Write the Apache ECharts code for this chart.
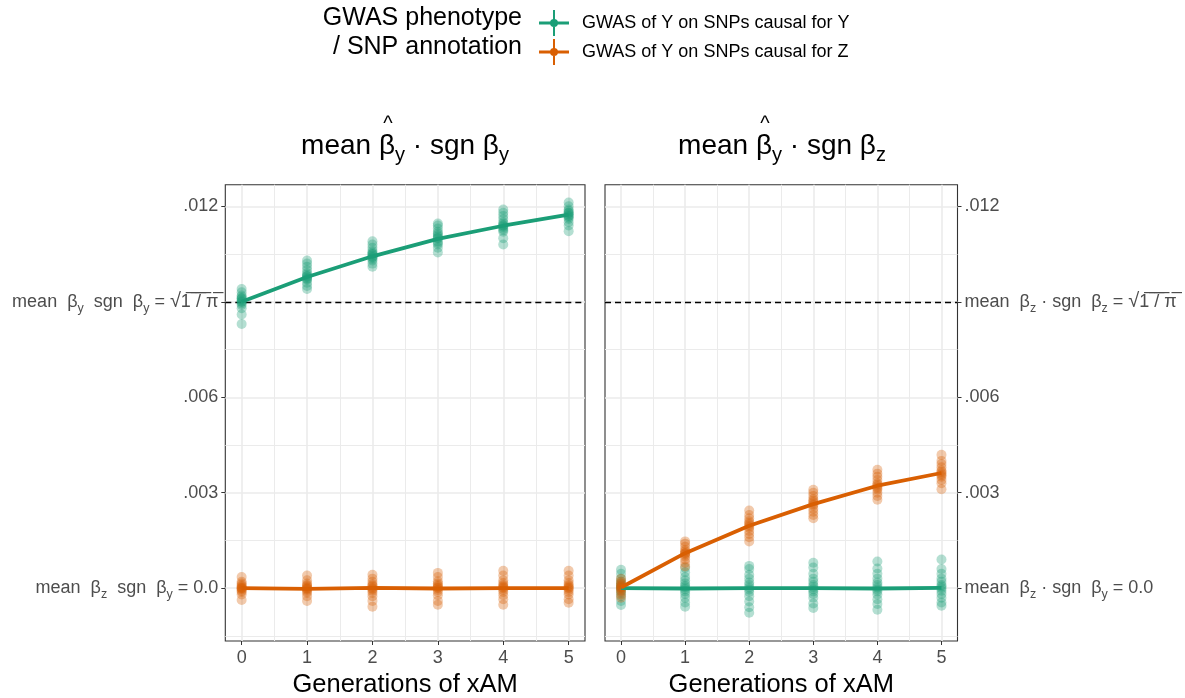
<!DOCTYPE html>
<html>
<head>
<meta charset="utf-8">
<script src="https://cdn.jsdelivr.net/npm/echarts@6/dist/echarts.min.js"></script>
<style>
  html, body { margin: 0; padding: 0; background: #ffffff; }
  #chart { width: 1185px; height: 698px; }
</style>
</head>
<body>
<div id="chart"></div>
<script>
// Generations of cross-trait assortative mating
const generations = [0, 1, 2, 3, 4, 5];

const seriesNameY = 'GWAS of Y on SNPs causal for Y';
const seriesNameZ = 'GWAS of Y on SNPs causal for Z';

// Left panel: mean beta-hat_y * sgn beta_y
const leftMeansY = [0.00900, 0.00978, 0.01043, 0.01098, 0.01139, 0.01174];
const leftMeansZ = [0.00000, -0.00002, 0.00001, -0.00001, 0.00000, 0.00000];
// Right panel: mean beta-hat_y * sgn beta_z
const rightMeansY = [0.00000, -0.00001, 0.00000, 0.00000, -0.00001, 0.00001];
const rightMeansZ = [0.00002, 0.00110, 0.00196, 0.00264, 0.00322, 0.00362];

// Replicate estimates per generation
const leftRepsY = [
  [0.0083, 0.0086, 0.0088, 0.0089, 0.00895, 0.0090, 0.0090, 0.00905, 0.0091, 0.0091, 0.00915, 0.0092, 0.0093, 0.0094],
  [0.0094, 0.0095, 0.0096, 0.0097, 0.00972, 0.00975, 0.0098, 0.0098, 0.00985, 0.0099, 0.0100, 0.0101, 0.0102, 0.0103],
  [0.0101, 0.0102, 0.0103, 0.01035, 0.0104, 0.0104, 0.01045, 0.0105, 0.0105, 0.01055, 0.0106, 0.0107, 0.0108, 0.0109],
  [0.01055, 0.0107, 0.0108, 0.01085, 0.0109, 0.0110, 0.0110, 0.01105, 0.0111, 0.01115, 0.0112, 0.0113, 0.0114, 0.01146],
  [0.0108, 0.0110, 0.0112, 0.01125, 0.0113, 0.01135, 0.0114, 0.0114, 0.01145, 0.0115, 0.0116, 0.0117, 0.0118, 0.0119],
  [0.01122, 0.0114, 0.0115, 0.0116, 0.01165, 0.0117, 0.0117, 0.01175, 0.0118, 0.0118, 0.01185, 0.0119, 0.0120, 0.01212]
];
const leftRepsZ = [
  [-0.00037, -0.0002, -0.00012, -0.00008, -0.00004, 0, 0, 0.00003, 0.00006, 0.0001, 0.00015, 0.0002, 0.00035],
  [-0.0004, -0.00025, -0.00015, -0.0001, -0.00005, -0.00002, 0, 0.00003, 0.00007, 0.0001, 0.00015, 0.00025, 0.0004],
  [-0.00058, -0.0004, -0.00025, -0.00015, -0.00008, -0.00003, 0, 0.00004, 0.00008, 0.00012, 0.0002, 0.0003, 0.00042],
  [-0.00052, -0.0004, -0.00022, -0.00012, -0.00006, 0, 0.00002, 0.00006, 0.0001, 0.00015, 0.00022, 0.00035, 0.00048],
  [-0.00052, -0.00035, -0.00022, -0.00012, -0.00006, 0, 0.00003, 0.00006, 0.0001, 0.00016, 0.00025, 0.0004, 0.00055],
  [-0.00046, -0.00035, -0.0002, -0.00012, -0.00005, 0, 0.00002, 0.00006, 0.0001, 0.00016, 0.00025, 0.0004, 0.00055]
];
const rightRepsY = [
  [-0.00053, -0.0004, -0.00025, -0.00015, -0.00008, 0, 0.00004, 0.00008, 0.00014, 0.0002, 0.0003, 0.00045, 0.00058],
  [-0.00058, -0.00045, -0.0003, -0.00018, -0.0001, -0.00003, 0.00003, 0.00008, 0.00015, 0.00025, 0.00035, 0.0005, 0.00064],
  [-0.00077, -0.0006, -0.00042, -0.00025, -0.00012, -0.00004, 0.00002, 0.0001, 0.00018, 0.0003, 0.00042, 0.0006, 0.0007],
  [-0.00062, -0.00048, -0.0003, -0.00018, -0.0001, -0.00003, 0.00004, 0.0001, 0.0002, 0.0003, 0.00045, 0.00065, 0.0008],
  [-0.00068, -0.0005, -0.00035, -0.0002, -0.0001, -0.00004, 0.00002, 0.0001, 0.00018, 0.0003, 0.00045, 0.00062, 0.00084],
  [-0.00055, -0.00045, -0.0003, -0.00018, -0.00008, 0, 0.00005, 0.0001, 0.0002, 0.0003, 0.00045, 0.0006, 0.0009]
];
const rightRepsZ = [
  [-0.0003, -0.0002, -0.0001, -0.00005, 0, 0.00002, 0.00005, 0.0001, 0.00015, 0.0002, 0.0003],
  [0.00068, 0.0008, 0.0009, 0.001, 0.00105, 0.0011, 0.0011, 0.00115, 0.0012, 0.0013, 0.0014, 0.00147],
  [0.00147, 0.0016, 0.0017, 0.0018, 0.0019, 0.00195, 0.002, 0.00205, 0.0021, 0.0022, 0.0023, 0.00244],
  [0.0022, 0.0023, 0.0024, 0.0025, 0.0026, 0.00264, 0.0027, 0.00275, 0.0028, 0.0029, 0.003, 0.00309],
  [0.00278, 0.0029, 0.003, 0.0031, 0.00315, 0.0032, 0.00325, 0.0033, 0.0034, 0.0035, 0.0036, 0.00372],
  [0.00311, 0.0033, 0.0034, 0.0035, 0.00355, 0.0036, 0.00365, 0.0037, 0.0038, 0.0039, 0.004, 0.00419]
];

// Reference level: mean |beta| = sqrt(1/pi), scaled
const referenceLevel = 0.009;

// Axis breaks and tick labels
const yBreaks = [0, 0.003, 0.006, 0.009, 0.012];
const yMinorBreaks = [-0.0015, 0.0015, 0.0045, 0.0075, 0.0105];
const xBreaks = [0, 1, 2, 3, 4, 5];
const xMinorBreaks = [0.5, 1.5, 2.5, 3.5, 4.5];
const leftYLabels = [
  '{t|mean  β}{s|z}{t|  sgn  β}{s|y}{t| = 0.0}',
  '{t|.003}',
  '{t|.006}',
  '{t|mean  β}{s|y}{t|  sgn  β}{s|y}{t| = }{r|√}{t|1̅ ̅/̅ ̅π̅}',
  '{t|.012}'
];
const rightYLabels = [
  '{t|mean  β}{s|z}{t| · sgn  β}{s|y}{t| = 0.0}',
  '{t|.003}',
  '{t|.006}',
  '{t|mean  β}{s|z}{t| · sgn  β}{s|z}{t| = }{r|√}{t|1̅ ̅/̅ ̅π̅}',
  '{t|.012}'
];
// Panel titles, as [main, subscript, main, subscript] pieces
const panelTitleParts = [
  ['mean β', 'y', ' · sgn β', 'y'],
  ['mean β', 'y', ' · sgn β', 'z']
];
const xAxisTitle = 'Generations of xAM';
const legendTitle = 'GWAS phenotype\n/ SNP annotation';

const colorY = '#1b9e77';
const colorZ = '#d95f02';
const FONT = 'Liberation Sans';
const TITLE_SIZE = 28, TITLE_SUB = 20;

const labelRich = {
  t: { fontFamily: FONT, fontSize: 18, color: '#4d4d4d', lineHeight: 26 },
  r: { fontFamily: FONT, fontSize: 20, color: '#4d4d4d', lineHeight: 26 },
  s: { fontFamily: FONT, fontSize: 12.5, color: '#4d4d4d', lineHeight: 26, verticalAlign: 'bottom' }
};
const titleRich = {
  m: { fontFamily: FONT, fontSize: TITLE_SIZE, color: '#000000', lineHeight: 38 },
  b: { fontFamily: FONT, fontSize: TITLE_SUB, color: '#000000', lineHeight: 38, verticalAlign: 'bottom' }
};

function labelFor(labels) {
  return function (v) {
    const i = yBreaks.findIndex(b => Math.abs(b - v) < 1e-9);
    return i >= 0 ? labels[i] : '';
  };
}

function pointsOf(reps) {
  const out = [];
  reps.forEach((vals, i) => vals.forEach(v => out.push([generations[i], v])));
  return out;
}
function lineOf(means) {
  return means.map((v, i) => [generations[i], v]);
}

const yMin = -0.00166, yMax = 0.01268;
const xMin = -0.25, xMax = 5.25;

function xAxisFor(gridIndex) {
  return {
    type: 'value', gridIndex, min: xMin, max: xMax,
    axisLine: { show: false, onZero: false },
    splitLine: { show: false },
    axisTick: { show: true, length: 4, lineStyle: { color: '#333333', width: 1 }, customValues: xBreaks },
    axisLabel: { show: true, customValues: xBreaks, margin: 8, fontFamily: FONT, fontSize: 18, color: '#4d4d4d', formatter: v => String(v) },
    name: xAxisTitle, nameLocation: 'middle', nameGap: 30,
    nameTextStyle: { fontFamily: FONT, fontSize: 25.5, color: '#000000' }
  };
}
function yAxisFor(gridIndex, position, labels) {
  return {
    type: 'value', gridIndex, position, min: yMin, max: yMax,
    axisLine: { show: false, onZero: false },
    splitLine: { show: false },
    axisTick: { show: true, length: 4, lineStyle: { color: '#333333', width: 1 }, customValues: yBreaks },
    axisLabel: { show: true, customValues: yBreaks, margin: 7, formatter: labelFor(labels), rich: labelRich }
  };
}

function gridLineSeries(k) {
  const data = [];
  yMinorBreaks.forEach(v => data.push({ yAxis: v, lineStyle: { width: 1 } }));
  xMinorBreaks.forEach(v => data.push({ xAxis: v, lineStyle: { width: 1 } }));
  yBreaks.forEach(v => data.push({ yAxis: v, lineStyle: { width: 1.6 } }));
  xBreaks.forEach(v => data.push({ xAxis: v, lineStyle: { width: 1.6 } }));
  return {
    type: 'line', name: 'grid' + k, xAxisIndex: k, yAxisIndex: k, data: [], silent: true, z: 1,
    markLine: {
      silent: true, symbol: ['none', 'none'], animation: false, precision: 10, z: 1,
      label: { show: false },
      lineStyle: { color: '#ebebeb', type: 'solid' },
      emphasis: { disabled: true },
      data
    }
  };
}
function refLineSeries(k) {
  return {
    type: 'line', name: 'ref' + k, xAxisIndex: k, yAxisIndex: k, data: [], silent: true, z: 2,
    markLine: {
      silent: true, symbol: ['none', 'none'], animation: false, precision: 10, z: 2,
      label: { show: false },
      lineStyle: { color: '#000000', type: [6, 4], width: 1.3 },
      emphasis: { disabled: true },
      data: [{ yAxis: referenceLevel }]
    }
  };
}
function pointSeries(k, name, color, reps) {
  return {
    type: 'scatter', name, xAxisIndex: k, yAxisIndex: k, z: 3,
    symbol: 'circle', symbolSize: 10, silent: true,
    itemStyle: { color, opacity: 0.33 },
    data: pointsOf(reps)
  };
}
function meanSeries(k, name, color, means) {
  return {
    type: 'line', name, xAxisIndex: k, yAxisIndex: k, z: 6,
    showSymbol: false, symbol: 'none', silent: true,
    lineStyle: { color, width: 3.8 }, itemStyle: { color },
    data: lineOf(means)
  };
}

// Panel title with a hat drawn above the first beta
const measureCtx = document.createElement('canvas').getContext('2d');
function textWidth(str, size) {
  measureCtx.font = size + 'px "' + FONT + '"';
  return measureCtx.measureText(str).width;
}
function titleGraphics(parts, cx, cy) {
  const text = '{m|' + parts[0] + '}{b|' + parts[1] + '}{m|' + parts[2] + '}{b|' + parts[3] + '}';
  const total = textWidth(parts[0], TITLE_SIZE) + textWidth(parts[1], TITLE_SUB) +
                textWidth(parts[2], TITLE_SIZE) + textWidth(parts[3], TITLE_SUB);
  const betaCenter = cx - total / 2 + textWidth(parts[0], TITLE_SIZE) - textWidth('β', TITLE_SIZE) / 2;
  return [
    { type: 'text', x: cx, y: cy, style: { text, rich: titleRich, align: 'center', verticalAlign: 'middle' } },
    { type: 'text', x: betaCenter + 1, y: cy - 22, style: { text: '^', align: 'center', verticalAlign: 'middle', fontFamily: FONT, fontSize: 20, fill: '#000000' } }
  ];
}

const legendIcon = 'path://M0 11.5 H30 V14.5 H0 Z M14 0 H16 V26 H14 Z M11 13 A4 4 0 1 1 19 13 A4 4 0 1 1 11 13 Z';

const gridBase = { top: 184.7, height: 456.3, show: true, borderColor: '#333333', borderWidth: 1.1, backgroundColor: '#ffffff', containLabel: false, outerBoundsMode: 'none' };

const option = {
  animation: false,
  backgroundColor: '#ffffff',
  grid: [
    Object.assign({ left: 225.3, width: 359.7 }, gridBase),
    Object.assign({ left: 605, width: 352.5 }, gridBase)
  ],
  xAxis: [xAxisFor(0), xAxisFor(1)],
  yAxis: [yAxisFor(0, 'left', leftYLabels), yAxisFor(1, 'right', rightYLabels)],
  legend: {
    orient: 'vertical', left: 534, top: 5,
    itemWidth: 30, itemHeight: 26, itemGap: 3,
    selectedMode: false,
    textStyle: { fontFamily: FONT, fontSize: 18, color: '#000000', padding: [0, 0, 0, 8] },
    data: [
      { name: seriesNameY, icon: legendIcon, itemStyle: { color: colorY, opacity: 1 } },
      { name: seriesNameZ, icon: legendIcon, itemStyle: { color: colorZ, opacity: 1 } }
    ]
  },
  graphic: [
    { type: 'text', x: 522, y: 33, style: { text: legendTitle, align: 'right', verticalAlign: 'middle', fontFamily: FONT, fontSize: 25, lineHeight: 29, fill: '#000000' } }
  ].concat(titleGraphics(panelTitleParts[0], 405, 146), titleGraphics(panelTitleParts[1], 782, 146)),
  series: [
    gridLineSeries(0), refLineSeries(0),
    pointSeries(0, seriesNameY, colorY, leftRepsY),
    pointSeries(0, seriesNameZ, colorZ, leftRepsZ),
    meanSeries(0, seriesNameY, colorY, leftMeansY),
    meanSeries(0, seriesNameZ, colorZ, leftMeansZ),
    gridLineSeries(1), refLineSeries(1),
    pointSeries(1, seriesNameY, colorY, rightRepsY),
    pointSeries(1, seriesNameZ, colorZ, rightRepsZ),
    meanSeries(1, seriesNameY, colorY, rightMeansY),
    meanSeries(1, seriesNameZ, colorZ, rightMeansZ)
  ]
};

const chart = echarts.init(document.getElementById('chart'), null, { renderer: 'canvas' });
chart.setOption(option);
</script>
</body>
</html>
